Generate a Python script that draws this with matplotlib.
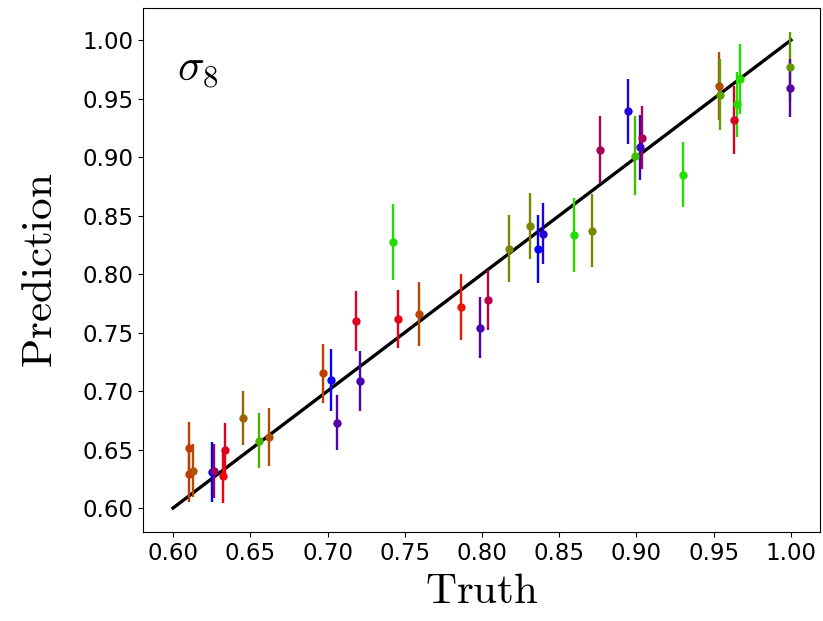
import matplotlib
matplotlib.use('Agg')
import matplotlib.pyplot as plt
import numpy as np

plt.rcParams['mathtext.fontset'] = 'cm'

# truth, prediction, 1-sigma error, colour value (brg colormap)
truth = [0.6106, 0.6106, 0.6127, 0.6250, 0.6268, 0.6326, 0.6335, 0.6456, 0.6558, 0.6620,
         0.6974, 0.7025, 0.7059, 0.7185, 0.7212, 0.7423, 0.7454, 0.7590, 0.7866, 0.7985,
         0.8039, 0.8172, 0.8308, 0.8363, 0.8397, 0.8597, 0.8713, 0.8761, 0.8948, 0.8992,
         0.9023, 0.9036, 0.9299, 0.9532, 0.9540, 0.9629, 0.9648, 0.9670, 0.9995, 0.9995]
pred = [0.6288, 0.6515, 0.6319, 0.6308, 0.6316, 0.6274, 0.6496, 0.6768, 0.6575, 0.6606,
        0.7151, 0.7093, 0.6731, 0.7597, 0.7083, 0.8274, 0.7614, 0.7658, 0.7716, 0.7543,
        0.7780, 0.8217, 0.8409, 0.8217, 0.8345, 0.8335, 0.8372, 0.9063, 0.9391, 0.9012,
        0.9083, 0.9167, 0.8849, 0.9610, 0.9533, 0.9316, 0.9450, 0.9667, 0.9769, 0.9590]
err = [0.0234, 0.0217, 0.0227, 0.0258, 0.0230, 0.0229, 0.0228, 0.0230, 0.0233, 0.0247,
       0.0250, 0.0265, 0.0232, 0.0257, 0.0257, 0.0323, 0.0250, 0.0274, 0.0283, 0.0260,
       0.0254, 0.0284, 0.0284, 0.0291, 0.0263, 0.0317, 0.0310, 0.0284, 0.0279, 0.0337,
       0.0275, 0.0273, 0.0280, 0.0290, 0.0306, 0.0290, 0.0280, 0.0300, 0.0298, 0.0246]
cval = [0.62, 0.62, 0.66, 0.00, 0.30, 0.48, 0.43, 0.69, 0.85, 0.66,
        0.62, 0.02, 0.17, 0.43, 0.15, 0.93, 0.45, 0.64, 0.55, 0.15,
        0.36, 0.76, 0.76, 0.00, 0.08, 0.93, 0.76, 0.33, 0.06, 0.87,
        0.12, 0.33, 0.93, 0.65, 0.82, 0.43, 0.93, 0.93, 0.80, 0.17]

fig = plt.figure(figsize=(8.23, 6.21), dpi=100)
ax = fig.add_axes([0.1738, 0.1433, 0.8226, 0.8438])

ax.plot([0.6, 1.0], [0.6, 1.0], color='k', lw=2.4, zorder=1)

cmap = plt.cm.brg
for t, p, e, c in zip(truth, pred, err, cval):
    ax.errorbar(t, p, yerr=e, fmt='o', color=cmap(c), ms=5, elinewidth=1.7, zorder=2)

ax.set_xlim(0.5806, 1.0188)
ax.set_ylim(0.5795, 1.0274)
ax.set_xticks(np.arange(0.60, 1.001, 0.05))
ax.set_yticks(np.arange(0.60, 1.001, 0.05))
ax.tick_params(labelsize=16.5)

ax.set_xlabel(r'$\mathrm{Truth}$', fontsize=31)
ax.set_ylabel(r'$\mathrm{Prediction}$', fontsize=31, labelpad=15)
ax.text(0.05, 0.925, r'$\sigma_8$', transform=ax.transAxes, fontsize=32, va='top')

fig.savefig('out.png', dpi=100)
